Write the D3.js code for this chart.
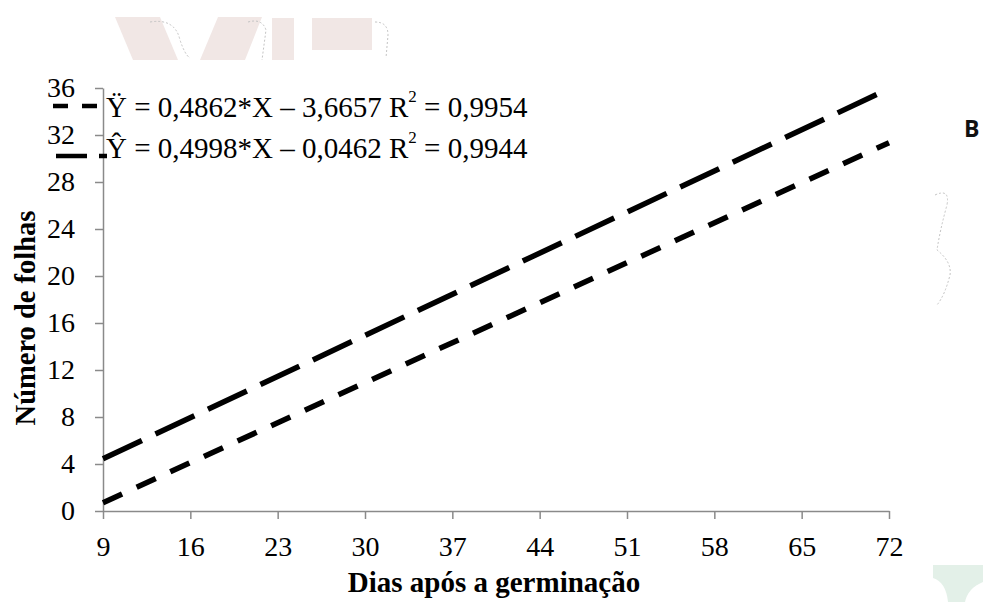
<!DOCTYPE html>
<html><head><meta charset="utf-8">
<script src="https://cdn.jsdelivr.net/npm/d3@7"></script>
<style>body{margin:0;background:#fff}svg{display:block}
.serif{font-family:"Liberation Serif","Tinos","DejaVu Serif",serif}
</style>
</head><body>
<svg id="c" width="983" height="602"></svg>
<script>
const xTicks = [9,16,23,30,37,44,51,58,65,72];
const yTicks = [0,4,8,12,16,20,24,28,32,36];
const xEnds = [9,72];
const seriesShort = [0.71,31.34];   // Ÿ = 0,4862*X – 3,6657
const seriesLong  = [4.45,35.94];   // Ŷ = 0,4998*X – 0,0462
const legendLabels = [
  {pre:"Ÿ = 0,4862*X – 3,6657 R", post:" = 0,9954"},
  {pre:"Ŷ = 0,4998*X – 0,0462 R", post:" = 0,9944"}
];
const xTitle = "Dias após a germinação";
const yTitle = "Número de folhas";

const svg = d3.select("#c");
const axisCol = "#8a8a8a";

// faint watermark shapes
const wm = svg.append("g").attr("fill","#f1e7e5");
wm.append("path").attr("d","M115,17 L160,17 L178,60 L133,60 Z");
wm.append("path").attr("d","M218,17 L262,17 L245,60 L200,60 Z");
wm.append("rect").attr("x",272).attr("y",18).attr("width",22).attr("height",42);
wm.append("rect").attr("x",312).attr("y",18).attr("width",60).attr("height",32);
const dotted = {fill:"none",stroke:"#c4c4c4","stroke-width":1,"stroke-dasharray":"2,2"};
[["M150,22 Q175,18 180,40 Q185,55 190,58"],["M248,22 Q262,18 266,30 L262,60"],["M375,22 Q388,22 388,35 L386,58"],
 ["M935,195 Q950,188 947,205 Q940,230 937,250 Q952,262 950,275 Q945,295 937,305"]].forEach(p=>{
  const e = svg.append("path").attr("d",p[0]);
  Object.entries(dotted).forEach(([k,v])=>e.attr(k,v));
});
svg.append("path").attr("d","M933,565 L983,565 L983,582 Q968,588 965,602 L948,602 Q946,582 933,578 Z").attr("fill","#e3f0e8");

svg.append("text").attr("x",964).attr("y",137).style("font-family","'Open Sans',sans-serif")
  .attr("font-weight","bold").attr("font-size",23).attr("fill","#111").text("B");

const x = d3.scaleLinear().domain([9,72]).range([103,889]);
const y = d3.scaleLinear().domain([0,36]).range([511,88]);

// axes
const gx = svg.append("g").attr("transform","translate(0,511)")
  .call(d3.axisBottom(x).tickValues(xTicks).tickSize(8).tickPadding(17).tickSizeOuter(0));
const gy = svg.append("g").attr("transform","translate(103,0)")
  .call(d3.axisLeft(y).tickValues(yTicks).tickSize(8).tickPadding(20).tickSizeOuter(0));
[gx,gy].forEach(g=>{
  g.attr("font-family",null);
  g.select(".domain").attr("stroke",axisCol).attr("stroke-width",1.5);
  g.selectAll(".tick line").attr("stroke",axisCol).attr("stroke-width",1.5);
  g.selectAll(".tick text").attr("class","serif").attr("font-size",28).attr("fill","#000");
});

// lines
const line = d3.line().x(d=>x(d[0])).y(d=>y(d[1]));
svg.append("path").datum(xEnds.map((v,i)=>[v,seriesLong[i]])).attr("d",line)
  .attr("fill","none").attr("stroke","#000").attr("stroke-width",5.5).attr("stroke-dasharray","43,15");
svg.append("path").datum(xEnds.map((v,i)=>[v,seriesShort[i]])).attr("d",line)
  .attr("fill","none").attr("stroke","#000").attr("stroke-width",5.5).attr("stroke-dasharray","21,16");

// legend
const lg = svg.append("g");
lg.append("line").attr("x1",53).attr("x2",97).attr("y1",106).attr("y2",106)
  .attr("stroke","#000").attr("stroke-width",4.5).attr("stroke-dasharray","15,14,15");
lg.append("line").attr("x1",56).attr("x2",107).attr("y1",156).attr("y2",156)
  .attr("stroke","#000").attr("stroke-width",4.5).attr("stroke-dasharray","31,12,8");
legendLabels.forEach((l,i)=>{
  const t = lg.append("text").attr("class","serif").attr("x",106).attr("y",117+i*41)
    .attr("font-size",29).attr("fill","#000");
  t.append("tspan").text(l.pre);
  t.append("tspan").attr("font-size",17).attr("dy",-15).text("2");
  t.append("tspan").attr("dy",15).text(l.post);
});

// titles
svg.append("text").attr("class","serif").attr("x",494).attr("y",592).attr("text-anchor","middle")
  .attr("font-weight","bold").attr("font-size",29).text(xTitle);
svg.append("text").attr("class","serif").attr("transform","translate(35,318) rotate(-90)").attr("text-anchor","middle")
  .attr("font-weight","bold").attr("font-size",28.5).text(yTitle);
</script>
</body></html>
